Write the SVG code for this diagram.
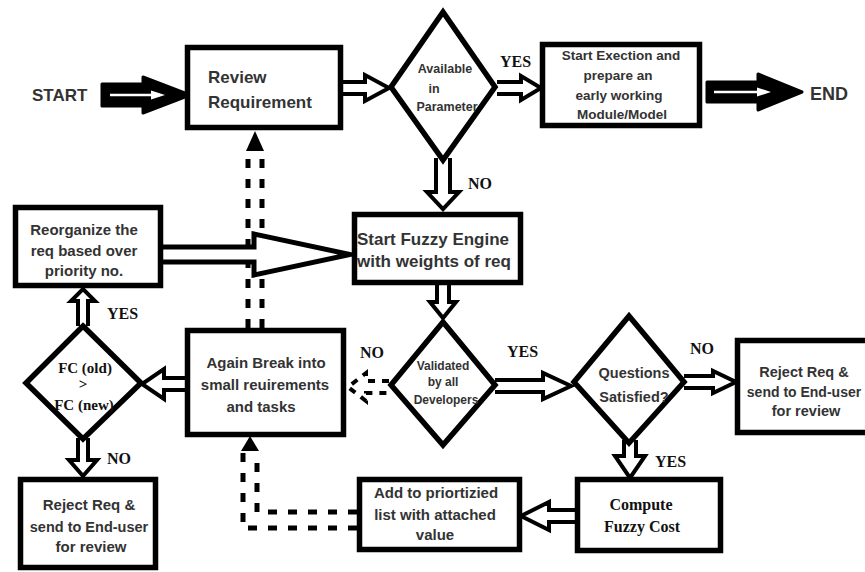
<svg xmlns="http://www.w3.org/2000/svg" width="865" height="572" viewBox="0 0 865 572">
<style>
.box{fill:#fff;stroke:#000;stroke-width:5.5}
.dia{fill:#fff;stroke:#000;stroke-width:5.5;stroke-linejoin:miter;stroke-miterlimit:10}
.arr{fill:#fff;stroke:#000;stroke-width:4;stroke-linejoin:miter;stroke-miterlimit:10}
.blk{fill:#000;stroke:#000;stroke-width:3;stroke-linejoin:round}
.wl{fill:none;stroke:#fff;stroke-width:2.5}
.wh{fill:#fff}
.dash{fill:none;stroke:#000;stroke-width:5;stroke-dasharray:9 11}
.dash2{fill:none;stroke:#000;stroke-width:4;stroke-dasharray:7 7}
.head{fill:#000}
.t{font-family:"Liberation Sans",Arial,sans-serif;font-weight:bold;fill:#333}
.m{text-anchor:middle}
.s{font-family:"Liberation Serif","Times New Roman",serif;font-weight:bold;fill:#111}
.lb{font-family:"Liberation Serif","Times New Roman",serif;font-weight:bold;fill:#111;font-size:16px}
</style>

<g id="connectors">
  <!-- START arrow -->
  <path class="blk" d="M102,84 L143,84 L143,77 L190,95 L143,113 L143,106 L102,106 Z"/>
  <path class="wl" d="M110,95 L160,95"/>
  <polygon class="wh" points="151,90.5 165,95 151,99.5"/>
  <!-- END arrow -->
  <path class="blk" d="M707,82 L758,82 L758,74 L802,92 L758,110 L758,102 L707,102 Z"/>
  <path class="wl" d="M714,92 L766,92"/>
  <polygon class="wh" points="757,87.5 771,92 757,96.5"/>
  <!-- Review -> Available -->
  <path class="arr" d="M343,82 L365,82 L365,75 L389,88 L365,101 L365,94 L343,94"/>
  <!-- Available YES -> Execution -->
  <path class="arr" d="M497,82 L521,82 L521,76 L541,88 L521,100 L521,94 L497,94"/>
  <text class="lb" x="500" y="67">YES</text>
  <!-- Available NO -> Fuzzy -->
  <path class="arr" d="M436,158 L436,192 L427,192 L443,209 L459,192 L450,192 L450,158"/>
  <text class="lb" x="468" y="189">NO</text>
  <!-- Fuzzy -> Validated -->
  <path class="arr" d="M437,285 L437,302 L430,302 L443,318 L456,302 L449,302 L449,285"/>
  <!-- Validated YES -> Questions -->
  <path class="arr" d="M495,380 L543,380 L543,373 L571,386 L543,399 L543,392 L495,392"/>
  <text class="lb" x="507" y="357">YES</text>
  <!-- Questions NO -> Reject right -->
  <path class="arr" d="M684,376 L713,376 L713,371 L736,382 L713,393 L713,388 L684,388"/>
  <text class="lb" x="690" y="354">NO</text>
  <!-- Questions YES -> Compute -->
  <path class="arr" d="M624,440 L624,456 L615,456 L630,478 L645,456 L636,456 L636,440"/>
  <text class="lb" x="655" y="467">YES</text>
  <!-- Compute -> Add -->
  <path class="arr" d="M575,510 L549,510 L549,502 L521,516 L549,530 L549,522 L575,522"/>
  <!-- Add -> Again Break (dashed) -->
  <path class="dash" d="M357,528 L243,528 L243,452"/>
  <path class="dash" d="M357,512 L257,512 L257,452"/>
  <polygon class="head" points="250,436 259,451 241,451"/>
  <!-- Validated NO -> Again Break (dashed) -->
  <path class="dash2" d="M389,381 L366,381 L366,373 L348,387 L366,401 L366,393 L389,393"/>
  <text class="lb" x="360" y="358">NO</text>
  <!-- Again Break -> FC -->
  <path class="arr" d="M185,378 L164,378 L164,369 L142,384 L164,399 L164,390 L185,390"/>
  <!-- FC YES -> Reorganize -->
  <path class="arr" d="M78,326 L78,301 L71,301 L83,289 L95,301 L88,301 L88,326"/>
  <text class="lb" x="107" y="319">YES</text>
  <!-- FC NO -> Reject left -->
  <path class="arr" d="M78,438 L78,460 L69,460 L83,476 L97,460 L88,460 L88,438"/>
  <text class="lb" x="107" y="464">NO</text>
  <!-- Again Break -> Review (dashed) -->
  <path class="dash" d="M248,328 L248,150"/>
  <path class="dash" d="M262,328 L262,150"/>
  <polygon class="head" points="255,131 264,151 246,151"/>
  <!-- Reorganize -> Fuzzy -->
  <path class="arr" style="stroke-width:5" d="M163,247 L254,247 L254,234 L350,254.5 L254,275 L254,262 L163,262"/>
</g>

<g id="start"><text class="t" x="32" y="101" font-size="17">START</text></g>
<g id="end"><text class="t" x="810" y="100" font-size="18">END</text></g>

<g id="review">
  <rect class="box" x="187.5" y="47.5" width="153" height="80"/>
  <text class="t" x="208" y="83" font-size="17">Review</text>
  <text class="t" x="208" y="108" font-size="17">Requirement</text>
</g>

<g id="available">
  <polygon class="dia" points="443,12 495,87 443,160 391,87"/>
  <text class="t m" x="445" y="73" font-size="12.5">Available</text>
  <text class="t m" x="434" y="93" font-size="12.5">in</text>
  <text class="t m" x="447" y="111" font-size="12.5">Parameter</text>
</g>

<g id="execute">
  <rect class="box" x="542.5" y="44.5" width="157" height="81"/>
  <text class="t m" x="621" y="60" font-size="13.5">Start Exection and</text>
  <text class="t m" x="618" y="80" font-size="13.5">prepare an</text>
  <text class="t m" x="619" y="100" font-size="13.5">early working</text>
  <text class="t m" x="622" y="119" font-size="13.5">Module/Model</text>
</g>

<g id="fuzzy">
  <rect class="box" x="354.5" y="214.5" width="166" height="68"/>
  <text class="t" x="357" y="245" font-size="17">Start Fuzzy Engine</text>
  <text class="t" x="357" y="267" font-size="17">with weights of req</text>
</g>

<g id="reorganize">
  <rect class="box" x="15.5" y="207.5" width="145" height="78"/>
  <text class="t m" x="84" y="235" font-size="15">Reorganize the</text>
  <text class="t m" x="84" y="256" font-size="15">req based over</text>
  <text class="t m" x="84" y="276" font-size="15">priority no.</text>
</g>

<g id="validated">
  <polygon class="dia" points="443,322 495,385 443,445 391,385"/>
  <text class="t m" x="443" y="370" font-size="12">Validated</text>
  <text class="t m" x="443" y="386" font-size="12">by all</text>
  <text class="t m" x="446" y="404" font-size="12">Developers</text>
</g>

<g id="questions">
  <polygon class="dia" points="629,316 684,382 629,443 574,382"/>
  <text class="t m" x="634" y="378" font-size="14.5">Questions</text>
  <text class="t m" x="634" y="402" font-size="14.5">Satisfied?</text>
</g>

<g id="reject-right">
  <rect class="box" x="737.5" y="340.5" width="140" height="92"/>
  <text class="t m" x="804" y="377" font-size="14.5">Reject Req &amp;</text>
  <text class="t m" x="804" y="397" font-size="14">send to End-user</text>
  <text class="t m" x="806" y="416" font-size="14.5">for review</text>
</g>

<g id="again-break">
  <rect class="box" x="187.5" y="330.5" width="156" height="104"/>
  <text class="t m" x="266" y="368" font-size="15">Again Break into</text>
  <text class="t m" x="265" y="390" font-size="15">small reuirements</text>
  <text class="t m" x="261" y="412" font-size="15">and tasks</text>
</g>

<g id="fc">
  <polygon class="dia" points="83,326 141,383 83,439 26,383"/>
  <text class="s m" x="85" y="373" font-size="15" fill="#333">FC (old)</text>
  <text class="s m" x="83" y="389" font-size="15" fill="#333">&gt;</text>
  <text class="s m" x="84" y="410" font-size="15" fill="#333">FC (new)</text>
</g>

<g id="reject-left">
  <rect class="box" x="20.5" y="479.5" width="135" height="88"/>
  <text class="t m" x="89" y="510" font-size="15">Reject Req &amp;</text>
  <text class="t m" x="89" y="532" font-size="14.5">send to End-user</text>
  <text class="t m" x="91" y="552" font-size="15">for review</text>
</g>

<g id="compute">
  <rect class="box" x="577.5" y="479.5" width="143" height="71"/>
  <text class="s m" x="641" y="510" font-size="16" fill="#333">Compute</text>
  <text class="s m" x="642" y="532" font-size="16" fill="#333">Fuzzy Cost</text>
</g>

<g id="add-list">
  <rect class="box" x="359.5" y="479.5" width="160" height="70"/>
  <text class="t m" x="436" y="498" font-size="15">Add to priortizied</text>
  <text class="t m" x="435" y="520" font-size="15">list with attached</text>
  <text class="t m" x="435" y="540" font-size="15">value</text>
</g>
</svg>
